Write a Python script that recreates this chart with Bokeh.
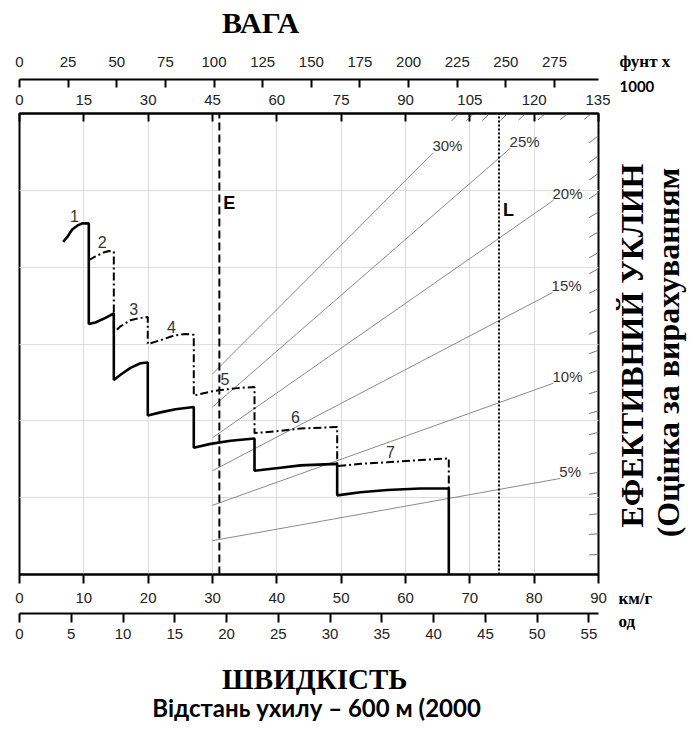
import math
from bokeh.plotting import figure
from bokeh.layouts import row, column
from bokeh.models import Range1d, LinearAxis, FixedTicker, Grid, Label
from bokeh.core.properties import value
from bokeh.embed import file_html
from bokeh.resources import INLINE

# ---------------- data ----------------
kmh_ticks = [0, 10, 20, 30, 40, 50, 60, 70, 80, 90]
mph_ticks = [0, 5, 10, 15, 20, 25, 30, 35, 40, 45, 50, 55]
kg_ticks = [0, 15, 30, 45, 60, 75, 90, 105, 120, 135]
lb_ticks = [0, 25, 50, 75, 100, 125, 150, 175, 200, 225, 250, 275]
effort_grid = [1, 2, 3, 4, 5]

# solid rimpull curve (speed km/h, effort in grid units)
solid_speed = [6.79, 7.41, 8.19, 8.97, 9.75, 10.77,
               10.77, 11.81, 13.37, 14.66,
               14.66, 15.70, 17.25, 18.81, 19.94,
               19.94, 21.92, 24.25, 27.09,
               27.09, 29.69, 32.80, 36.53,
               36.53, 40.57, 43.68, 49.38,
               49.38, 53.00, 57.16, 62.33, 66.73,
               66.73]
solid_effort = [4.33, 4.39, 4.49, 4.54, 4.57, 4.57,
                3.26, 3.28, 3.34, 3.40,
                2.53, 2.60, 2.69, 2.75, 2.76,
                2.07, 2.11, 2.15, 2.18,
                1.65, 1.70, 1.74, 1.77,
                1.35, 1.39, 1.42, 1.44,
                1.03, 1.07, 1.10, 1.12, 1.12,
                0.0]

# dash-dot rimpull curve
dash_speed = [10.77, 11.81, 13.06, 13.88, 14.66,
              14.66, 15.70, 17.25, 18.81, 19.94,
              19.94, 21.92, 23.98, 25.80, 27.09,
              27.09, 29.69, 31.24, 34.35, 36.53,
              36.53, 40.57, 43.68, 49.38,
              49.38, 53.00, 57.16, 62.33, 66.73,
              66.73]
dash_effort = [4.09, 4.14, 4.19, 4.21, 4.20,
               3.15, 3.23, 3.31, 3.34, 3.35,
               3.00, 3.05, 3.11, 3.13, 3.12,
               2.33, 2.38, 2.40, 2.43, 2.44,
               1.84, 1.87, 1.90, 1.92,
               1.41, 1.44, 1.46, 1.49, 1.51,
               1.12]

gear_names = ["1", "2", "3", "4", "5", "6", "7"]
gear_x = [8.55, 12.86, 17.77, 23.63, 31.92, 42.90, 57.67]
gear_y = [4.67, 4.33, 3.46, 3.22, 2.55, 2.05, 1.60]

# effective grade lines (weight t, effort)
grade_names = ["5%", "10%", "15%", "20%", "25%", "30%"]
grade_w0 = [45.0, 45.0, 45.0, 45.0, 45.0, 45.0]
grade_e0 = [0.44, 0.90, 1.35, 1.78, 2.18, 2.61]
grade_w1 = [126.1, 124.5, 124.3, 124.5, 114.5, 96.5]
grade_e1 = [1.25, 2.49, 3.67, 4.87, 5.55, 5.49]

# 1% grade hatch marks along the right and top edges
right_hatch_e = [0.26, 0.53, 0.79, 1.06, 1.33, 1.59, 1.85, 2.13, 2.39, 2.66, 2.92,
                 3.18, 3.46, 3.72, 3.98, 4.19, 4.46, 4.72, 4.97, 5.22, 5.45, 5.71]
top_hatch_w = [102.4, 105.9, 109.6, 113.8, 118.0, 122.6, 127.8, 133.4]

empty_w = [46.6]
loaded_w = [111.8]

KG_MAX = 135.0
E_MAX = 6.0

# ---------------- main figure ----------------
MAIN_W, MAIN_H = 610, 610
p = figure(width=MAIN_W, height=MAIN_H, x_range=Range1d(0, 90), y_range=Range1d(0, E_MAX),
           output_backend="svg", toolbar_location=None,
           x_axis_location=None, y_axis_location=None,
           min_border_left=19, min_border_right=12, min_border_top=65, min_border_bottom=84)
p.extra_x_ranges = {"kg": Range1d(0, KG_MAX),
                    "lb": Range1d(0, KG_MAX * 2.20462),
                    "mph": Range1d(0, 90 / 1.609344)}
p.outline_line_color = "black"
p.outline_line_width = 2
p.background_fill_color = "white"
p.border_fill_color = "white"

GRID = "#dcdcdc"
p.add_layout(Grid(dimension=0, ticker=FixedTicker(ticks=kmh_ticks), grid_line_color=GRID, grid_line_width=1))
p.add_layout(Grid(dimension=1, ticker=FixedTicker(ticks=effort_grid), grid_line_color=GRID, grid_line_width=1))

TICK_FONT = "Liberation Sans"


def style_axis(ax, tick_in, tick_out, standoff):
    ax.axis_line_width = 2
    ax.axis_line_color = "black"
    ax.major_tick_line_width = 2
    ax.major_tick_line_color = "black"
    ax.major_tick_in = tick_in
    ax.major_tick_out = tick_out
    ax.minor_tick_line_color = None
    ax.minor_tick_in = 0
    ax.minor_tick_out = 0
    ax.major_label_standoff = standoff
    ax.major_label_text_font = TICK_FONT
    ax.major_label_text_font_size = "15px"
    ax.major_label_text_color = "#222222"


def spacer(ax, size):
    ax.axis_label = " "
    ax.axis_label_standoff = 0
    ax.axis_label_text_font_size = size


ax_kmh = LinearAxis(ticker=FixedTicker(ticks=kmh_ticks))
style_axis(ax_kmh, 0, 9, 9)
spacer(ax_kmh, "4px")
p.add_layout(ax_kmh, "below")

ax_mph = LinearAxis(x_range_name="mph", ticker=FixedTicker(ticks=mph_ticks))
style_axis(ax_mph, 0, 9, 6)
p.add_layout(ax_mph, "below")

ax_kg = LinearAxis(x_range_name="kg", ticker=FixedTicker(ticks=kg_ticks))
style_axis(ax_kg, 8, 0, 9)
spacer(ax_kg, "8px")
p.add_layout(ax_kg, "above")

ax_lb = LinearAxis(x_range_name="lb", ticker=FixedTicker(ticks=lb_ticks))
style_axis(ax_lb, 8, 0, 13)
p.add_layout(ax_lb, "above")

# grade lines
LINE_GRAY = "#8a8a8a"
p.segment(x0=grade_w0, y0=grade_e0, x1=grade_w1, y1=grade_e1, x_range_name="kg",
          line_color=LINE_GRAY, line_width=1)
p.text(x=grade_w1, y=grade_e1, text=grade_names, x_range_name="kg",
       text_font=value(TICK_FONT), text_font_size="15px", text_color="#333333",
       text_align="left", text_baseline="middle", x_offset=-1, y_offset=-7)

# hatch marks (short pieces of the 1 % grade lines at the border)
rh_x0 = [KG_MAX - 2.2 for _ in right_hatch_e]
rh_y0 = [e * (KG_MAX - 2.2) / KG_MAX for e in right_hatch_e]
rh_x1 = [KG_MAX for _ in right_hatch_e]
p.segment(x0=rh_x0, y0=rh_y0, x1=rh_x1, y1=right_hatch_e, x_range_name="kg",
          line_color="#777777", line_width=1)
th_x0 = [w - 1.7 for w in top_hatch_w]
th_y0 = [E_MAX * (w - 1.7) / w for w in top_hatch_w]
th_y1 = [E_MAX for _ in top_hatch_w]
p.segment(x0=th_x0, y0=th_y0, x1=top_hatch_w, y1=th_y1, x_range_name="kg",
          line_color="#777777", line_width=1)

# empty / loaded weight lines
p.segment(x0=empty_w, y0=[0], x1=empty_w, y1=[E_MAX], x_range_name="kg",
          line_color="black", line_width=2, line_dash="8 4")
p.segment(x0=loaded_w, y0=[0], x1=loaded_w, y1=[E_MAX], x_range_name="kg",
          line_color="black", line_width=2, line_dash="2 2")
p.text(x=empty_w, y=[4.84], text=["E"], x_range_name="kg",
       text_font=value(TICK_FONT), text_font_style="bold", text_font_size="18px",
       text_color="black", text_align="left", text_baseline="middle", x_offset=4)
p.text(x=loaded_w, y=[4.74], text=["L"], x_range_name="kg",
       text_font=value(TICK_FONT), text_font_style="bold", text_font_size="18px",
       text_color="black", text_align="left", text_baseline="middle", x_offset=4)

# rimpull curves
p.line(x=dash_speed, y=dash_effort, line_color="black", line_width=2, line_dash="8 3 2 3")
p.line(x=solid_speed, y=solid_effort, line_color="black", line_width=2.6)

p.text(x=gear_x, y=gear_y, text=gear_names,
       text_font=value(TICK_FONT), text_font_size="16px", text_color="#333333",
       text_align="center", text_baseline="middle")

# ---------------- text panels ----------------
SERIF = "Liberation Serif"


def text_fig(w, h):
    f = figure(width=w, height=h, x_range=Range1d(0, w), y_range=Range1d(0, h),
               output_backend="svg", toolbar_location=None,
               x_axis_location=None, y_axis_location=None,
               min_border=0, min_border_left=0, min_border_right=0,
               min_border_top=0, min_border_bottom=0)
    f.outline_line_color = None
    f.background_fill_color = "white"
    f.border_fill_color = "white"
    f.xgrid.visible = False
    f.ygrid.visible = False
    return f


def add_label(f, x, y, text, font, size, style="bold", align="center", angle=0.0):
    f.add_layout(Label(x=x, y=y, text=text, text_font=font, text_font_size=size,
                       text_font_style=style, text_color="black", text_align=align,
                       text_baseline="middle", angle=angle))


TOP_H = 48
top_fig = text_fig(MAIN_W, TOP_H)
add_label(top_fig, 254, TOP_H - 22, "ВАГА", SERIF, "30px")

BOT_H = 66
bot_fig = text_fig(MAIN_W, BOT_H)
add_label(bot_fig, 311, BOT_H - 20, "ШВИДКІСТЬ", SERIF, "29px")
add_label(bot_fig, 313, BOT_H - 49, "Відстань ухилу – 600 м (2000", "Lato", "24px")

RIGHT_W = 78
RIGHT_H = TOP_H + MAIN_H + BOT_H
right_fig = text_fig(RIGHT_W, RIGHT_H)
add_label(right_fig, 9, RIGHT_H - 61, "фунт x", SERIF, "17px", align="left")
add_label(right_fig, 9, RIGHT_H - 86, "1000", "Lato", "15px", align="left")
add_label(right_fig, 8, RIGHT_H - 598, "км/г", SERIF, "17px", align="left")
add_label(right_fig, 8, RIGHT_H - 621, "од", SERIF, "17px", align="left")
add_label(right_fig, 21, RIGHT_H - 345, "ЕФЕКТИВНИЙ УКЛИН", SERIF, "32px", angle=math.pi / 2)
add_label(right_fig, 57, RIGHT_H - 352, "(Оцінка за вирахуванням", SERIF, "32px", angle=math.pi / 2)

layout = row(column(top_fig, p, bot_fig), right_fig)

open("out.html", "w").write(file_html(layout, INLINE))
